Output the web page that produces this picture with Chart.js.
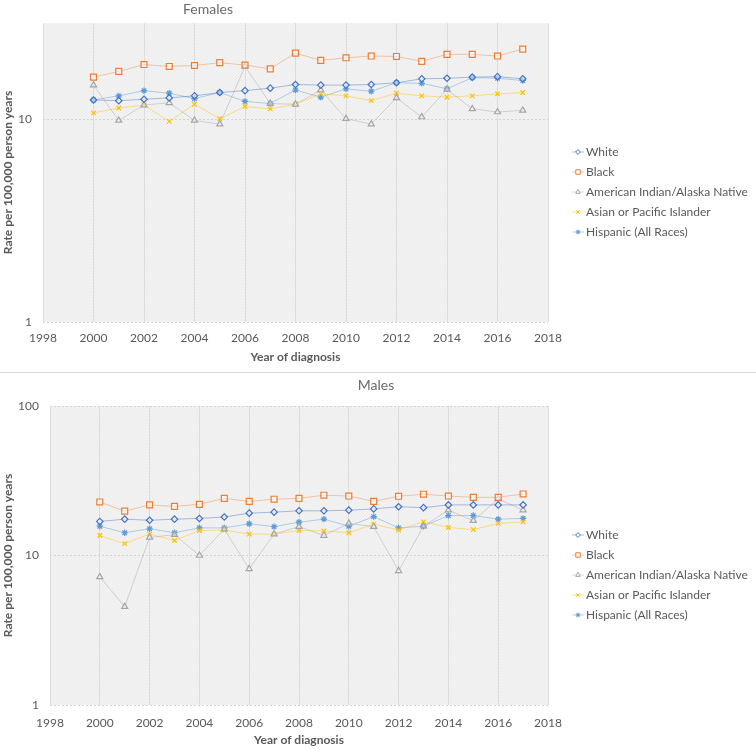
<!DOCTYPE html>
<html>
<head>
<meta charset="utf-8">
<script src="https://cdn.jsdelivr.net/npm/chart.js@4"></script>
<style>
  html, body { margin: 0; padding: 0; background: #fff; }
  #wrap { position: relative; width: 756px; height: 750px; overflow: hidden; }
  #top { position: absolute; left: 0; top: 0; }
  #sep { position: absolute; left: 0; top: 372px; width: 756px; height: 1px; background: #d9d9d9; }
  #bottom { position: absolute; left: 0; top: 373px; }
</style>
</head>
<body>
<div id="wrap">
  <canvas id="top" width="756" height="372"></canvas>
  <div id="sep"></div>
  <canvas id="bottom" width="756" height="377"></canvas>
</div>
<script>
// years and tick labels
const years = [2000, 2001, 2002, 2003, 2004, 2005, 2006, 2007, 2008, 2009, 2010, 2011, 2012, 2013, 2014, 2015, 2016, 2017];
const xTicks = [1998, 2000, 2002, 2004, 2006, 2008, 2010, 2012, 2014, 2016, 2018];
const yTicksFemales = [1, 10];
const yTicksMales = [1, 10, 100];

const seriesNames = ['White', 'Black', 'American Indian/Alaska Native', 'Asian or Pacific Islander', 'Hispanic (All Races)'];

// Females, rate per 100,000
const femWhite = [12.5, 12.4, 12.6, 12.8, 13.1, 13.6, 13.9, 14.3, 14.9, 14.8, 14.8, 14.9, 15.2, 15.9, 16.0, 16.2, 16.3, 15.9];
const femBlack = [16.2, 17.3, 18.7, 18.3, 18.5, 19.1, 18.6, 17.8, 21.3, 19.6, 20.2, 20.6, 20.5, 19.4, 21.0, 21.0, 20.6, 22.3];
const femAian = [14.8, 9.9, 11.8, 12.1, 9.9, 9.5, 18.3, 12.0, 11.9, 14.0, 10.1, 9.5, 12.8, 10.3, 14.1, 11.3, 10.9, 11.1];
const femApi = [10.8, 11.4, 11.8, 9.8, 11.9, 10.1, 11.6, 11.3, 11.9, 13.4, 13.1, 12.4, 13.5, 13.1, 12.9, 13.1, 13.4, 13.6];
const femHisp = [12.5, 13.1, 13.9, 13.5, 12.7, 13.6, 12.3, 12.0, 14.0, 12.9, 14.2, 13.8, 15.2, 15.1, 14.2, 16.1, 16.0, 15.6];

// Males, rate per 100,000
const maleWhite = [16.9, 17.5, 17.2, 17.5, 17.7, 18.1, 19.2, 19.5, 19.9, 19.9, 20.1, 20.5, 21.2, 20.9, 21.8, 21.8, 21.8, 21.8];
const maleBlack = [22.8, 19.8, 21.8, 21.3, 22.0, 24.1, 23.0, 23.8, 24.1, 25.3, 25.0, 23.0, 24.9, 25.7, 25.0, 24.5, 24.5, 25.8];
const maleAian = [7.2, 4.55, 13.2, 13.8, 10.0, 15.0, 8.15, 13.9, 15.6, 13.6, 16.4, 15.6, 7.9, 15.7, 20.1, 17.1, 23.9, 20.1];
const maleApi = [13.6, 12.0, 13.9, 12.6, 14.7, 14.8, 13.9, 13.9, 14.7, 14.6, 14.2, 16.2, 14.8, 16.8, 15.4, 14.9, 16.4, 16.8];
const maleHisp = [15.7, 14.2, 15.1, 14.2, 15.3, 15.3, 16.3, 15.6, 16.7, 17.5, 15.7, 18.2, 15.3, 15.7, 18.5, 18.5, 17.5, 17.7];

const styles = [
  { color: '#4472C4', line: 'rgba(68,114,196,0.45)', point: 'rectRot', radius: 3.2 },
  { color: '#ED7D31', line: 'rgba(237,125,49,0.4)', point: 'rect', radius: 4.2 },
  { color: '#A5A5A5', line: 'rgba(165,165,165,0.45)', point: 'triangle', radius: 3.5 },
  { color: '#FFC000', line: 'rgba(255,192,0,0.45)', point: 'crossRot', radius: 3.2 },
  { color: '#5B9BD5', line: 'rgba(91,155,213,0.45)', point: 'star', radius: 3.2 }
];

Chart.defaults.font.family = 'Lato, "Open Sans", sans-serif';
Chart.defaults.font.size = 12;
Chart.defaults.color = '#595959';

function makeDatasets(seriesList) {
  return seriesList.map((vals, i) => ({
    label: seriesNames[i],
    data: years.map((yr, j) => ({ x: yr, y: vals[j] })),
    borderColor: styles[i].line,
    borderWidth: 1,
    pointStyle: styles[i].point,
    pointRadius: styles[i].radius,
    pointBorderColor: styles[i].color,
    pointBackgroundColor: 'rgba(255,255,255,0.5)',
    pointBorderWidth: 1.2,
    tension: 0
  }));
}

// hatched plot background + titles + side legend
let hatch = null;
const decorPlugin = {
  id: 'decor',
  beforeDraw(chart) {
    const { ctx, chartArea: a } = chart;
    if (!hatch) {
      const c = document.createElement('canvas');
      c.width = 3; c.height = 3;
      const g = c.getContext('2d');
      g.fillStyle = '#f3f3f3';
      g.fillRect(0, 0, 3, 3);
      g.fillStyle = '#ebebeb';
      for (let i = 0; i < 3; i++) g.fillRect(i, 2 - i, 1, 1);
      hatch = ctx.createPattern(c, 'repeat');
    }
    ctx.save();
    ctx.fillStyle = hatch;
    ctx.fillRect(a.left, a.top, a.right - a.left, a.bottom - a.top);
    ctx.restore();
  },
  afterDraw(chart, args, opts) {
    const ctx = chart.ctx;
    ctx.save();
    ctx.font = '14px Lato, sans-serif';
    ctx.fillStyle = '#6b6b6b';
    ctx.textAlign = 'center';
    ctx.textBaseline = 'middle';
    ctx.fillText(opts.title, opts.titleX, opts.titleY);

    ctx.font = '12px Lato, sans-serif';
    ctx.textAlign = 'left';
    chart.data.datasets.forEach((ds, i) => {
      const y = opts.legendTop + i * 20;
      ctx.strokeStyle = ds.borderColor;
      ctx.lineWidth = 1;
      ctx.beginPath();
      ctx.moveTo(572, y);
      ctx.lineTo(584, y);
      ctx.stroke();
      ctx.strokeStyle = ds.pointBorderColor;
      ctx.fillStyle = '#ffffff';
      ctx.lineWidth = 1;
      Chart.helpers.drawPoint(ctx, { pointStyle: ds.pointStyle, radius: ds.pointRadius * 0.75, rotation: 0, borderWidth: 1 }, 578, y);
      ctx.fillStyle = '#595959';
      ctx.fillText(ds.label, 586, y + 0.5);
    });
    ctx.restore();
  }
};

function makeChart(id, seriesList, cfg) {
  return new Chart(document.getElementById(id), {
    type: 'line',
    data: { datasets: makeDatasets(seriesList) },
    options: {
      responsive: false,
      animation: false,
      layout: { padding: { top: cfg.padTop, right: 208, bottom: 0, left: 0 } },
      plugins: {
        legend: { display: false },
        tooltip: { enabled: false },
        decor: { title: cfg.title, titleX: cfg.titleX, titleY: cfg.titleY, legendTop: cfg.legendTop }
      },
      scales: {
        x: {
          type: 'linear',
          min: 1998,
          max: 2018,
          afterBuildTicks: (s) => { s.ticks = xTicks.map(v => ({ value: v })); },
          afterFit: (s) => { s.height = cfg.xHeight; },
          ticks: { callback: (v) => String(v), padding: cfg.xTickPad, maxRotation: 0, color: '#595959' },
          grid: { color: '#dcdcdc', drawTicks: false },
          border: { display: false },
          title: {
            display: true,
            text: 'Year of diagnosis',
            font: { weight: 'bold', size: 12 },
            color: '#595959',
            padding: { top: 0, bottom: cfg.xTitlePad }
          }
        },
        y: {
          type: 'logarithmic',
          min: 1,
          max: cfg.yMax,
          afterBuildTicks: (s) => { s.ticks = cfg.yTicks.map(v => ({ value: v })); },
          afterFit: (s) => { s.width = cfg.yWidth; },
          ticks: { callback: (v) => String(v), padding: 11, color: '#595959' },
          grid: { color: '#d4d4d4', drawTicks: false },
          border: { display: false, dash: [2, 2] },
          title: {
            display: true,
            text: 'Rate per 100,000 person years',
            font: { weight: 'bold', size: 12 },
            color: '#595959',
            padding: { top: 1, bottom: 0 }
          }
        }
      }
    },
    plugins: [decorPlugin]
  });
}

makeChart('top', [femWhite, femBlack, femAian, femApi, femHisp], {
  title: 'Females', titleX: 208, titleY: 9,
  legendTop: 152, padTop: 23, yMax: 30, yTicks: yTicksFemales,
  yWidth: 43, xHeight: 50, xTickPad: 9, xTitlePad: 8
});

makeChart('bottom', [maleWhite, maleBlack, maleAian, maleApi, maleHisp], {
  title: 'Males', titleX: 376, titleY: 12,
  legendTop: 162, padTop: 33, yMax: 100, yTicks: yTicksMales,
  yWidth: 50, xHeight: 45, xTickPad: 11, xTitlePad: 3
});
</script>
</body>
</html>
